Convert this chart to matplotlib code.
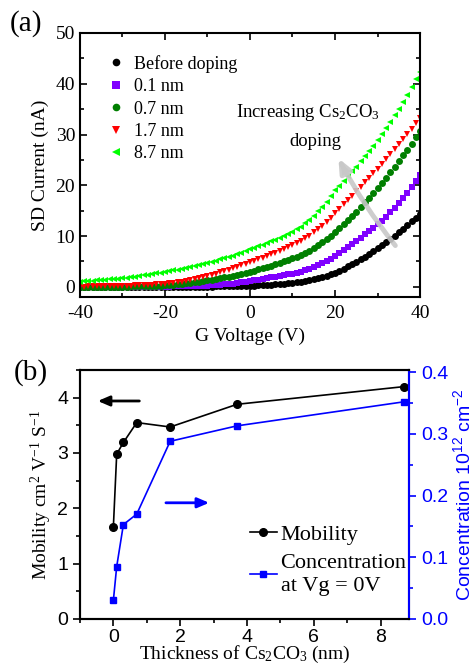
import matplotlib
matplotlib.use("Agg")
import matplotlib.pyplot as plt
import numpy as np
from matplotlib.ticker import MultipleLocator
from matplotlib.lines import Line2D

plt.rcParams['font.family'] = ['Liberation Serif', 'DejaVu Serif']
plt.rcParams['mathtext.default'] = 'regular'
plt.rcParams['axes.unicode_minus'] = False

# gate sweep, 1 V steps
vg = np.arange(-40, 41, 1)

i_before = [0.0] * 20 + [
    0.0, 0.01, 0.01, 0.01, 0.02, 0.02, 0.02, 0.03, 0.03, 0.04,
    0.05, 0.06, 0.07, 0.08, 0.09, 0.1, 0.12, 0.14, 0.16, 0.18,
    0.2, 0.23, 0.27, 0.31, 0.36, 0.41, 0.47, 0.54, 0.62, 0.71,
    0.8, 0.9, 1.02, 1.17, 1.33, 1.52, 1.73, 1.97, 2.22, 2.5,
    2.8, 3.19, 3.6, 4.03, 4.48, 4.95, 5.44, 5.95, 6.48, 7.03,
    7.6, 8.19, 8.8, 9.43, 10.08, 10.75, 11.44, 12.15, 12.88, 13.63,
    14.4]
i_01nm = [0.0] * 10 + [
    0.0, 0.0, 0.0, 0.01, 0.01, 0.02, 0.02, 0.03, 0.03, 0.04,
    0.05, 0.06, 0.07, 0.09, 0.11, 0.13, 0.15, 0.17, 0.2, 0.23,
    0.26, 0.3, 0.35, 0.41, 0.48, 0.56, 0.65, 0.76, 0.88, 1.02,
    1.17, 1.3, 1.43, 1.56, 1.7, 1.84, 1.99, 2.14, 2.29, 2.44,
    2.6, 2.77, 2.98, 3.23, 3.52, 3.85, 4.22, 4.63, 5.08, 5.57,
    6.1, 6.65, 7.22, 7.8, 8.4, 9.02, 9.66, 10.31, 10.98, 11.66,
    12.35, 13.06, 13.83, 14.65, 15.53, 16.47, 17.47, 18.52, 19.63, 20.8,
    22.0]
i_07nm = [
    0.0, 0.0, 0.0, 0.01, 0.01, 0.01, 0.02, 0.02, 0.03, 0.04,
    0.05, 0.06, 0.08, 0.1, 0.12, 0.14, 0.17, 0.2, 0.23, 0.26,
    0.3, 0.36, 0.43, 0.5, 0.59, 0.68, 0.78, 0.89, 1.0, 1.13,
    1.26, 1.4, 1.54, 1.7, 1.86, 2.03, 2.21, 2.4, 2.59, 2.79,
    3.0, 3.21, 3.43, 3.67, 3.91, 4.17, 4.44, 4.72, 5.01, 5.3,
    5.6, 5.92, 6.28, 6.69, 7.14, 7.64, 8.18, 8.76, 9.38, 10.05,
    10.8, 11.55, 12.33, 13.13, 13.96, 14.82, 15.71, 16.62, 17.56, 18.52,
    19.5, 20.5, 21.52, 22.57, 23.65, 24.75, 25.88, 27.04, 28.22, 29.43,
    30.66]
i_17nm = [
    0.05, 0.06, 0.07, 0.08, 0.09, 0.1, 0.12, 0.14, 0.16, 0.18,
    0.2, 0.22, 0.25, 0.28, 0.31, 0.35, 0.39, 0.44, 0.49, 0.54,
    0.6, 0.67, 0.76, 0.87, 0.99, 1.13, 1.29, 1.47, 1.66, 1.87,
    2.1, 2.34, 2.59, 2.85, 3.11, 3.38, 3.65, 3.93, 4.21, 4.5,
    4.8, 5.1, 5.41, 5.73, 6.05, 6.39, 6.73, 7.08, 7.44, 7.81,
    8.2, 8.6, 9.05, 9.55, 10.11, 10.71, 11.37, 12.07, 12.83, 13.64,
    14.5, 15.36, 16.22, 17.09, 17.96, 18.84, 19.72, 20.61, 21.5, 22.4,
    23.3, 24.27, 25.25, 26.23, 27.21, 28.2, 29.19, 30.18, 31.18, 32.19,
    33.2]
i_87nm = [
    1.0, 1.07, 1.14, 1.21, 1.28, 1.35, 1.42, 1.49, 1.56, 1.63,
    1.7, 1.81, 1.92, 2.03, 2.15, 2.27, 2.39, 2.51, 2.64, 2.77,
    2.9, 3.06, 3.23, 3.4, 3.57, 3.74, 3.92, 4.1, 4.29, 4.49,
    4.7, 4.92, 5.15, 5.39, 5.64, 5.9, 6.17, 6.45, 6.75, 7.07,
    7.4, 7.7, 8.01, 8.33, 8.65, 8.98, 9.32, 9.68, 10.04, 10.42,
    10.8, 11.3, 11.87, 12.51, 13.23, 14.01, 14.87, 15.79, 16.79, 17.86,
    19.0, 19.9, 20.82, 21.76, 22.72, 23.7, 24.7, 25.72, 26.76, 27.82,
    28.9, 30.05, 31.24, 32.48, 33.77, 35.09, 36.47, 37.88, 39.34, 40.85,
    42.4]

curve_labels = ['Before doping', '0.1 nm', '0.7 nm', '1.7 nm', '8.7 nm']
curve_colors = ['black', '#8000ff', '#007f00', '#ff0000', '#00ff00']
curve_markers = ['o', 's', 'o', 'v', '<']

# Cs2CO3 thickness series
thickness = [0, 0.1, 0.3, 0.7, 1.7, 3.7, 8.7]
mobility = [1.66, 2.98, 3.19, 3.55, 3.47, 3.88, 4.2]
concentration = [0.03, 0.085, 0.153, 0.17, 0.288, 0.313, 0.352]

fig = plt.figure(figsize=(4.73, 6.65), dpi=100)

# ---- (a) transfer curves ----
ax1 = fig.add_axes([0.169, 0.5534, 0.719, 0.397])
series = [i_before, i_01nm, i_07nm, i_17nm, i_87nm]
for ys, lab, c, m in zip(series, curve_labels, curve_colors, curve_markers):
    ax1.plot(vg, ys, linestyle='none', marker=m, color=c, markersize=5,
             markeredgewidth=0, label=lab)
ax1.set_xlim(-40, 40)
ax1.set_ylim(-2, 50)
ax1.xaxis.set_major_locator(MultipleLocator(20))
ax1.xaxis.set_minor_locator(MultipleLocator(10))
ax1.yaxis.set_major_locator(MultipleLocator(10))
ax1.yaxis.set_minor_locator(MultipleLocator(5))
ax1.tick_params(which='both', direction='in', top=True, right=True, labelsize=14, width=1.2)
ax1.tick_params(which='major', length=5)
ax1.tick_params(which='minor', length=3)
ax1.tick_params(axis='x', pad=6)
for s in ax1.spines.values():
    s.set_linewidth(1.5)
ax1.set_xlabel('G Voltage (V)', fontsize=14, labelpad=4)
ax1.set_ylabel('SD Current (nA)', fontsize=14, labelpad=5)
ax1.legend(loc='upper left', bbox_to_anchor=(0.079, 0.917), frameon=False, fontsize=13,
           handlelength=1.0, handletextpad=0.5, labelspacing=0.3, markerscale=1.1,
           borderpad=0, borderaxespad=0)
ax1.text(13.6, 34.4, 'Increasing Cs$_2$CO$_3$', fontsize=13.5, ha='center', va='center')
ax1.text(15.5, 28.7, 'doping', fontsize=13.5, ha='center', va='center')
ax1.annotate('', xy=(20.5, 25.8), xytext=(34.6, 7.7),
             arrowprops=dict(arrowstyle='-|>,head_width=0.35,head_length=0.8',
                             color='#c8c8c8', lw=3.5, alpha=0.9,
                             connectionstyle='arc3,rad=-0.05'))
fig.text(0.02, 0.965, '(a)', fontsize=21, ha='left', va='center')

# ---- (b) mobility and carrier concentration ----
ax2 = fig.add_axes([0.169, 0.0692, 0.696, 0.3744])
ax3 = ax2.twinx()
ax2.plot(thickness, mobility, color='black', marker='o', markersize=5.5, lw=1.2)
ax3.plot(thickness, concentration, color='#0000ff', marker='s', markersize=5, lw=1.2)
ax2.set_xlim(-1, 8.85)
ax2.set_ylim(0, 4.5)
ax3.set_ylim(0, 0.4035)
ax2.xaxis.set_major_locator(MultipleLocator(2))
ax2.xaxis.set_minor_locator(MultipleLocator(1))
ax2.yaxis.set_major_locator(MultipleLocator(1))
ax2.yaxis.set_minor_locator(MultipleLocator(0.5))
ax3.yaxis.set_major_locator(MultipleLocator(0.1))
ax3.yaxis.set_minor_locator(MultipleLocator(0.05))
ax2.tick_params(which='both', direction='out', labelsize=14, width=1.2,
                labelfontfamily='Liberation Sans')
ax2.tick_params(which='major', length=5)
ax2.tick_params(which='minor', length=3)
ax2.tick_params(axis='x', pad=2)
ax3.tick_params(which='both', direction='out', labelsize=14, width=1.2,
                colors='#0000ff', labelfontfamily='Liberation Sans')
ax3.tick_params(which='major', length=5)
ax3.tick_params(which='minor', length=3)
for s in ax2.spines.values():
    s.set_linewidth(1.5)
for s in ax3.spines.values():
    s.set_linewidth(1.5)
ax3.spines['right'].set_color('#0000ff')
ax2.set_xlabel('Thickness of Cs$_2$CO$_3$ (nm)', fontsize=14, labelpad=-1)
ax2.set_ylabel('Mobility cm$^2$ V$^{-1}$ S$^{-1}$', fontsize=14, labelpad=2)
ax3.set_ylabel('Concentration 10$^{12}$ cm$^{-2}$', fontsize=14, color='#0000ff',
               family='Liberation Sans', labelpad=3)

# direction arrows pointing to each axis
ax2.annotate('', xy=(-0.55, 3.94), xytext=(0.86, 3.94),
             arrowprops=dict(arrowstyle='-|>,head_width=0.3,head_length=0.7',
                             color='black', lw=2))
ax2.annotate('', xy=(2.95, 2.1), xytext=(1.49, 2.1),
             arrowprops=dict(arrowstyle='-|>,head_width=0.3,head_length=0.7',
                             color='#0000ff', lw=2))

handles = [Line2D([], [], color='black', marker='o', markersize=5.5, lw=1.2),
           Line2D([], [], color='#0000ff', marker='s', markersize=5, lw=1.2)]
leg = ax3.legend(handles, ['Mobility', 'Concentration\nat Vg = 0V'], loc='upper left',
                 bbox_to_anchor=(0.517, 0.38), frameon=False,
                 prop={'family': 'Liberation Serif', 'size': 16},
                 handlelength=1.2, handletextpad=0.17, labelspacing=0.4,
                 borderpad=0, borderaxespad=0)
for t in leg.get_texts():
    t.set_linespacing(1.3)
fig.text(0.03, 0.44, '(b)', fontsize=21, ha='left', va='center')

fig.savefig('out.png', dpi=100)
